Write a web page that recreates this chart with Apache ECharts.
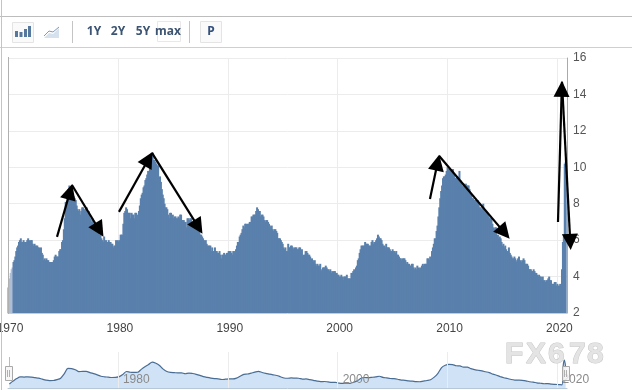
<!DOCTYPE html>
<html><head><meta charset="utf-8">
<style>html,body{margin:0;padding:0;background:#fff}#c{width:632px;height:390px}</style>
<script src="https://cdn.jsdelivr.net/npm/echarts@6/dist/echarts.min.js"></script>
</head><body><div id="c"></div>
<script>
const startYear = 1970;
const rate1970s = [3.4,3.6,3.9,4.2,4.4,4.5,4.8,4.9,5.1,5.4,5.6,5.7,5.9,6.0,6.1,
5.9,5.9,6.0,5.9,5.9,5.9,6.0,6.1,6.0,5.8,6.0,6.0,
5.8,5.7,5.8,5.7,5.7,5.7,5.6,5.6,5.5,5.6,5.3,5.2,
4.9,5.0,4.9,5.0,4.9,4.9,4.8,4.8,4.8,4.6,4.8,4.9,
5.1,5.2,5.1,5.1,5.1,5.4,5.5,5.5,5.9,6.0,6.6,7.2,
8.1,8.1,8.6,8.8,9.0,8.8,8.6,8.4,8.4,8.4,8.3,8.2,
7.9,7.7,7.6,7.7,7.4,7.6,7.8,7.8,7.6,7.7,7.8,7.8,
7.5,7.6,7.4,7.2,7.0,7.2,6.9,7.0,6.8,6.8,6.8,6.4,
6.4,6.3,6.3,6.1,6.0,5.9,6.2,5.9,6.0,5.8,5.9,6.0,
5.9,5.9,5.8,5.8,5.6,5.7,5.7,6.0,5.9,6.0,5.9,6.0];
const rate1980s = [6.3,6.3,6.3,6.9,7.5,7.6,7.8,7.7,7.5,7.5,7.5,7.2,
7.5,7.4,7.4,7.2,7.5,7.5,7.2,7.4,7.6,7.9,8.3,8.5,
8.6,8.9,9.0,9.3,9.4,9.6,9.8,9.8,10.1,10.4,10.8,10.8,
10.4,10.4,10.3,10.2,10.1,10.1,9.4,9.5,9.2,8.8,8.5,8.3,
8.0,7.8,7.8,7.7,7.4,7.2,7.5,7.5,7.3,7.4,7.2,7.3,
7.3,7.2,7.2,7.3,7.2,7.4,7.4,7.1,7.1,7.1,7.0,7.0,
6.7,7.2,7.2,7.1,7.2,7.2,7.0,6.9,7.0,7.0,6.9,6.6,
6.6,6.6,6.6,6.3,6.3,6.2,6.1,6.0,5.9,6.0,5.8,5.7,
5.7,5.7,5.7,5.4,5.6,5.4,5.4,5.6,5.4,5.4,5.3,5.3,
5.4,5.2,5.0,5.2,5.2,5.3,5.2,5.2,5.3,5.3,5.4,5.4];
const rate1990s = [5.4,5.3,5.2,5.4,5.4,5.2,5.5,5.7,5.9,5.9,6.2,6.3,
6.4,6.6,6.8,6.7,6.9,6.9,6.8,6.9,6.9,7.0,7.0,7.3,
7.3,7.4,7.4,7.4,7.6,7.8,7.7,7.6,7.6,7.3,7.4,7.4,
7.3,7.1,7.0,7.1,7.1,7.0,6.9,6.8,6.7,6.8,6.6,6.5,
6.6,6.6,6.5,6.4,6.1,6.1,6.1,6.0,5.9,5.8,5.6,5.5,
5.6,5.4,5.4,5.8,5.6,5.6,5.7,5.7,5.6,5.5,5.6,5.6,
5.6,5.5,5.5,5.6,5.6,5.3,5.5,5.1,5.2,5.2,5.4,5.4,
5.3,5.2,5.2,5.1,4.9,5.0,4.9,4.8,4.9,4.7,4.6,4.7,
4.6,4.6,4.7,4.3,4.4,4.5,4.5,4.5,4.6,4.5,4.4,4.4,
4.3,4.4,4.2,4.3,4.2,4.3,4.3,4.2,4.2,4.1,4.1,4.0];
const rate2000s = [4.0,4.1,4.0,3.8,4.0,4.0,4.0,4.1,3.9,3.9,3.9,3.9,
4.2,4.2,4.3,4.4,4.3,4.5,4.6,4.9,5.0,5.3,5.5,5.7,
5.7,5.7,5.7,5.9,5.8,5.8,5.8,5.7,5.7,5.7,5.9,6.0,
5.8,5.9,5.9,6.0,6.1,6.3,6.2,6.1,6.1,6.0,5.8,5.7,
5.7,5.6,5.8,5.6,5.6,5.6,5.5,5.4,5.4,5.5,5.4,5.4,
5.3,5.4,5.2,5.2,5.1,5.0,5.0,4.9,5.0,5.0,5.0,4.9,
4.7,4.8,4.7,4.7,4.6,4.6,4.7,4.7,4.5,4.4,4.5,4.4,
4.6,4.5,4.4,4.5,4.4,4.6,4.7,4.6,4.7,4.7,4.7,5.0,
5.0,4.9,5.1,5.0,5.4,5.6,5.8,6.1,6.1,6.5,6.8,7.3,
7.8,8.3,8.7,9.0,9.4,9.5,9.5,9.6,9.8,10.0,9.9,9.9];
const rate2010s = [9.8,9.8,9.9,9.9,9.6,9.4,9.4,9.5,9.5,9.4,9.8,9.3,
9.1,9.0,9.0,9.1,9.0,9.1,9.0,9.0,9.0,8.8,8.6,8.5,
8.3,8.3,8.2,8.2,8.2,8.2,8.2,8.0,7.8,7.8,7.7,7.9,
8.0,7.7,7.5,7.6,7.5,7.5,7.3,7.2,7.2,7.2,6.9,6.7,
6.6,6.7,6.7,6.2,6.3,6.1,6.2,6.1,5.9,5.7,5.8,5.6,
5.7,5.5,5.4,5.4,5.6,5.3,5.2,5.1,5.0,5.0,5.1,5.0,
4.8,4.9,5.0,5.1,4.8,4.9,4.8,4.9,5.0,4.9,4.7,4.7,
4.7,4.6,4.4,4.4,4.4,4.3,4.3,4.4,4.3,4.2,4.2,4.1,
4.0,4.1,4.0,4.0,3.8,4.0,3.8,3.8,3.7,3.8,3.8,3.9,
4.0,3.8,3.8,3.6,3.6,3.6,3.7,3.7,3.5,3.6,3.5,3.5];
const rate2020 = [3.6,3.5,4.4,5.9,6.2,10.2,10.3];
const navSpike = [9.5, 11.2, 9.0];
const xTickYears = [1970,1980,1990,2000,2010,2020];
const navLabelYears = [1980,2000,2020];
const yTickLabels = [2,4,6,8,10,12,14,16];
const rangeLabels = ['1Y','2Y','5Y','max'];
const printLabel = 'P';
const watermark = ['F','X','6','7','8'];
// arrows drawn on the picture: [fromYear, fromRate, tipYear, tipRate]
const arrows = [
 [1974.46,6.18,1975.82,9.03],[1975.82,9.03,1978.64,6.23],
 [1980.10,7.55,1983.10,10.79],[1983.10,10.79,1987.65,6.40],
 [2008.40,8.26,2009.22,10.63],[2009.22,10.63,2015.59,6.12],
 [2020.05,7.00,2020.41,14.69],[2020.41,14.69,2021.20,5.52]
];

const rates = [].concat(rate1970s,rate1980s,rate1990s,rate2000s,rate2010s,rate2020);
const series = rates.map((v,i)=>[startYear+i/12,v]);
const nav = [];
for(let i=0;i+4<=rates.length-4;i+=4){
  const s=rates.slice(i,i+4); nav.push([startYear+(i+1.5)/12,s.reduce((a,b)=>a+b,0)/4]);
}
const navEnd = startYear+(rates.length-5)/12;
nav.push([navEnd,3.5]);
navSpike.forEach((v,i)=>nav.push([navEnd+(i+1)*0.11,v]));

const xMax = 2020.87;
const gridLeft = 8, gridTop = 58, gridW = 559, gridH = 255;
const pxPerYear = gridW/(xMax-startYear), pxPerRate = gridH/14, headBack = 7;
// the last arrow's tip leaves the axis range, so annotations are placed by the same scale in canvas units;
// the triangle is centred on the line's end, so the line stops short of the tip
const toX = y => gridLeft+(y-startYear)*pxPerYear, toY = r => gridTop+gridH-(r-2)*pxPerRate;
const arrowData = arrows.map(a=>{
  const x0=toX(a[0]),y0=toY(a[1]),x1=toX(a[2]),y1=toY(a[3]),len=Math.hypot(x1-x0,y1-y0);
  return [{x:x0,y:y0},{x:x1-(x1-x0)/len*headBack,y:y1-(y1-y0)/len*headBack}];
});

const chart = echarts.init(document.getElementById('c'),null,{renderer:'canvas'});
const ff='"Liberation Sans",Arial,sans-serif';
const btnFont='bold 12px "Noto Sans",sans-serif';
const btnCol='#3d5573';
const hl=(x1,y1,x2,y2,c)=>({type:'line',shape:{x1,y1,x2,y2},style:{stroke:c,lineWidth:1},silent:true,z:20});
const box=(x,y,w,h,c,fill)=>({type:'rect',shape:{x,y,width:w,height:h},style:{stroke:c,fill:fill||'transparent',lineWidth:1},silent:true,z:20});
const g=[
 hl(0,16.5,632,16.5,'#bdbdbd'),hl(0,47.5,632,47.5,'#cfcfcf'),hl(1.5,0,1.5,390,'#c4c4c4'),
 hl(8.5,57,8.5,314,'#b0b0b0'),
 hl(72.5,21,72.5,43,'#c4c4c4'),hl(189.5,21,189.5,43,'#c4c4c4'),
 box(12.5,22.5,21,20,'#e4e4e4','#fafafa'),box(157.5,21.5,23,20,'#e8e8e8'),box(200.5,21.5,21,21,'#e4e4e4','#fafafa')
];
[[15,4],[19.5,3],[24,6],[28,9]].forEach(b=>g.push({type:'rect',shape:{x:b[0],y:37-b[1]-2,width:3,height:b[1]+2},style:{fill:'#55789f'},silent:true,z:21}));
g.push({type:'polygon',shape:{points:[[44,38],[49,33],[53,34],[59,28],[59,38]]},style:{fill:'#d5e2ee'},silent:true,z:21});
g.push({type:'polyline',shape:{points:[[44,36],[49,31],[53,32],[59,27]]},style:{stroke:'#7d9ab8',fill:'none',lineWidth:1},silent:true,z:21});
const btnX=[94,118,143,168];
rangeLabels.forEach((t,i)=>g.push({type:'text',x:btnX[i],y:32,style:{text:t,font:btnFont,fill:btnCol,align:'center',verticalAlign:'middle'},silent:true,z:22}));
g.push({type:'text',x:211,y:32,style:{text:printLabel,font:btnFont,fill:'#34507c',align:'center',verticalAlign:'middle'},silent:true,z:22});
// navigator handles
[[5,9],[562,566]].forEach(h=>{
  g.push(box(h[0]+.5,366.5,7,14,'#a9a9a9','rgba(245,245,245,.8)'));
  g.push(hl(h[1]-1.5,370,h[1]-1.5,377,'#b0b0b0'));g.push(hl(h[1]+.5,370,h[1]+.5,377,'#b0b0b0'));
});
g.push(hl(9.5,357,9.5,366,'#bbb'));
// watermark
const wmX=[505,526,548,569,587];
watermark.forEach((t,i)=>g.push({type:'text',x:wmX[i],y:355,style:{text:t,font:'bold 30px '+ff,fill:'#e4e4e4',stroke:'#c6c6c6',lineWidth:1,align:'left',verticalAlign:'middle'},silent:true,z:30}));

chart.setOption({
 animation:false,
 backgroundColor:'#fff',
 graphic:g,
 grid:[{left:gridLeft,width:gridW,top:gridTop,height:gridH,containLabel:false,outerBoundsMode:'none'},{left:gridLeft,width:gridW,top:352,height:36,containLabel:false,outerBoundsMode:'none'}],
 xAxis:[
  {type:'value',gridIndex:0,min:startYear,max:xMax,interval:10,
   axisLine:{show:true,onZero:false,lineStyle:{color:'#b7d0e2',width:1}},axisTick:{show:false},
   splitLine:{show:true,showMaxLine:false,showMinLine:false,lineStyle:{color:'#ececec',width:1}},
   axisLabel:{show:true,showMaxLabel:false,showMinLabel:true,formatter:v=>xTickYears.includes(v)?String(v):'',color:'#444',fontFamily:ff,fontSize:12,margin:10,padding:[0,0,0,4]}},
  {type:'value',gridIndex:1,min:startYear,max:xMax,interval:10,z:5,
   axisLine:{show:true,onZero:false,lineStyle:{color:'#b5c7d8',width:1}},axisTick:{show:false},
   splitLine:{show:true,showMaxLine:false,showMinLine:false,lineStyle:{color:'#ececec',width:1}},
   axisLabel:{show:true,inside:true,showMaxLabel:false,showMinLabel:false,align:'left',formatter:v=>navLabelYears.includes(v)?String(v):'',color:'#8a8a8a',fontFamily:ff,fontSize:12,margin:2,padding:[0,0,0,5]}}
 ],
 yAxis:[
  {type:'value',gridIndex:0,position:'right',min:2,max:16,interval:2,
   axisLine:{show:true,onZero:false,lineStyle:{color:'#aaa',width:1}},axisTick:{show:false},
   splitLine:{show:true,lineStyle:{color:'#ececec',width:1}},
   axisLabel:{formatter:v=>yTickLabels.includes(v)?String(v):'',color:'#555',fontFamily:ff,fontSize:12,margin:6,padding:[3,0,0,0]}},
  {type:'value',gridIndex:1,min:2.5,max:13.75,show:false,splitLine:{show:false}}
 ],
 series:[
  {type:'bar',xAxisIndex:0,yAxisIndex:0,barWidth:2,data:series,silent:true,clip:true,
   itemStyle:{color:p=>p.dataIndex<6?'#adbdd4':'#5a80ac'},
   markLine:{silent:true,animation:false,symbol:['none','triangle'],symbolSize:16,
    label:{show:false},lineStyle:{color:'#000',width:2.2,type:'solid'},
    emphasis:{disabled:true},
    data:arrowData}},
  {type:'line',xAxisIndex:1,yAxisIndex:1,data:nav,smooth:0.3,showSymbol:false,silent:true,
   lineStyle:{color:'#4a6d94',width:1.2},areaStyle:{color:'#cfe2f6',opacity:1}}
 ]
});
</script></body></html>
